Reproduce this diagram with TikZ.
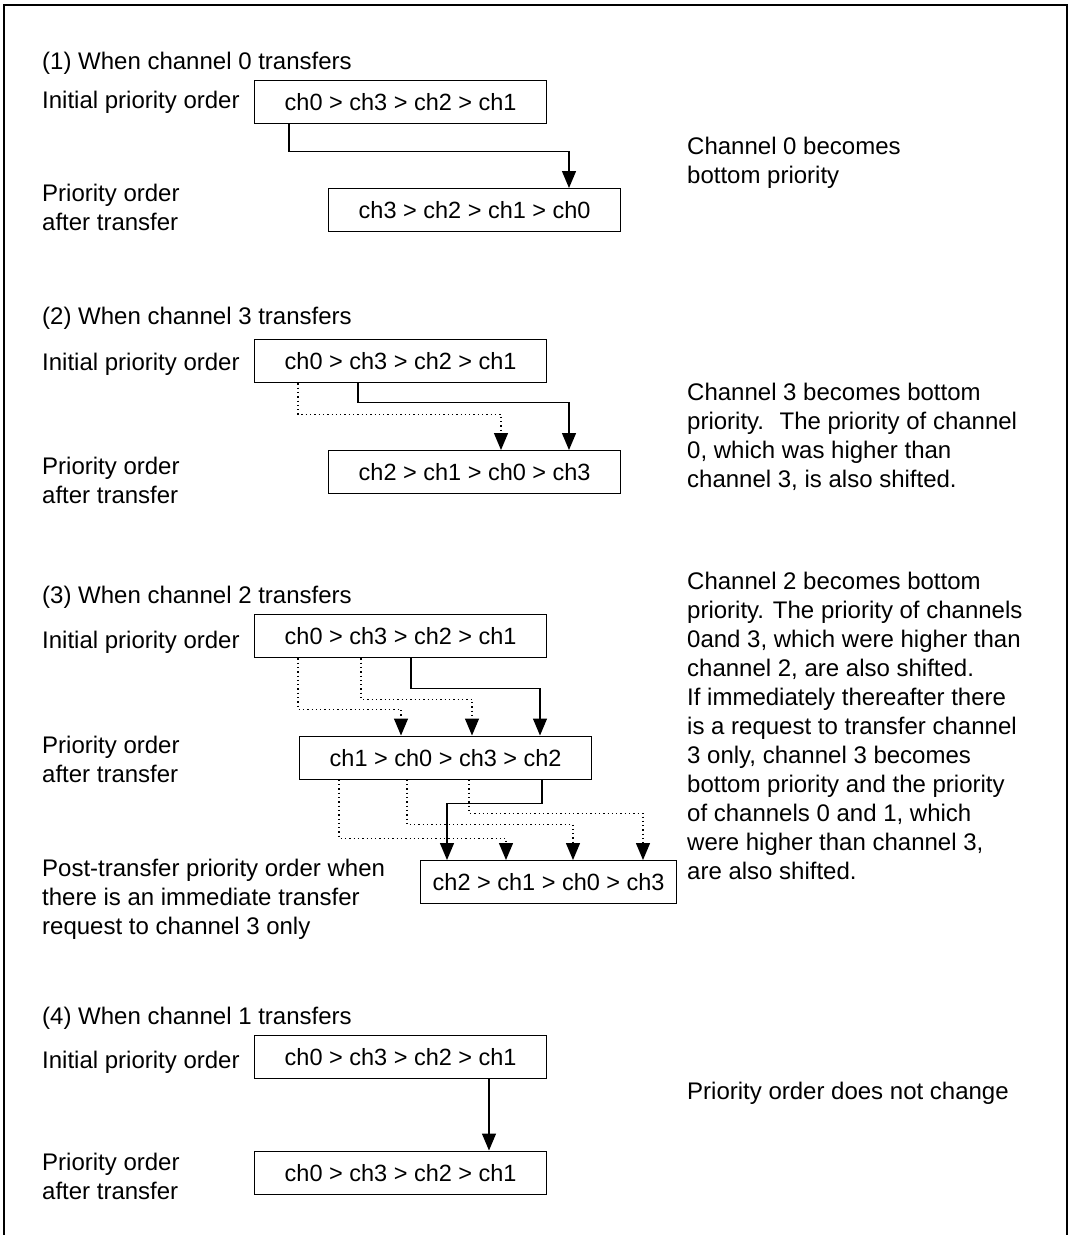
\documentclass[tikz,border=0pt]{standalone}
\usepackage{fontspec}
\setmainfont{Liberation Sans}
\usetikzlibrary{arrows.meta, positioning}

\newcommand{\lblfont}{\fontsize{24}{29}\selectfont}
\newcommand{\ordfont}{\fontsize{23.5}{29}\selectfont}

\begin{document}
\begin{tikzpicture}[
        x=1pt, y=-1pt,
        orderbox/.style={rectangle, draw, line width=1.3pt, minimum width=292pt, minimum height=43pt, inner sep=0pt, anchor=north west, font=\ordfont},
        lbl/.style={anchor=base west, align=left, inner sep=0pt, font=\lblfont},
        arrow/.style={-{Triangle[width=14pt,length=17pt]}, line width=1.3pt},
        dotarrow/.style={arrow, dash pattern=on 1.3pt off 3pt}
        ]
        \useasboundingbox (0,0) rectangle (1073,1235);

        % Frame (open at the bottom)
        \draw [line width=1.5pt] (4,1235) -- (4,5) -- (1067,5) -- (1067,1235);

        % (1) Channel 0  (multi-line labels sit on their last baseline)
        \node (h1) [lbl] at (42,69) {(1) When channel 0 transfers};
        \node (i1) [lbl] at (42,108) {Initial priority order};
        \node (a1) [lbl] at (42,230) {Priority order\\after transfer};
        \node (n1) [lbl] at (687,183) {Channel 0 becomes\\bottom priority};
        \node (b1a) [orderbox] at (254,80) {ch0 > ch3 > ch2 > ch1};
        \node (b1b) [orderbox] at (328,188) {ch3 > ch2 > ch1 > ch0};

        \draw [arrow] ([xshift=35pt]b1a.south west) -- ++(0,27) -| ([xshift=241pt]b1b.north west);

        % (2) Channel 3
        \node (h2) [lbl] at (42,324) {(2) When channel 3 transfers};
        \node (i2) [lbl] at (42,370) {Initial priority order};
        \node (a2) [lbl] at (42,503) {Priority order\\after transfer};
        \node (n2) [lbl] at (687,487) {Channel 3 becomes bottom\\priority.~ The priority of channel\\0, which was higher than\\channel 3, is also shifted.};
        \node (b2a) [orderbox] at (254,339) {ch0 > ch3 > ch2 > ch1};
        \node (b2b) [orderbox] at (328,450) {ch2 > ch1 > ch0 > ch3};

        \draw [arrow] ([xshift=104pt]b2a.south west) -- ++(0,19) -| ([xshift=241pt]b2b.north west);
        \draw [dotarrow] ([xshift=44pt]b2a.south west) -- ++(0,31) -| ([xshift=173pt]b2b.north west);

        % (3) Channel 2, then channel 3 only
        \node (h3) [lbl] at (42,603) {(3) When channel 2 transfers};
        \node (i3) [lbl] at (42,648) {Initial priority order};
        \node (a3) [lbl] at (42,782) {Priority order\\after transfer};
        \node (p3) [lbl] at (42,934) {Post-transfer priority order when\\there is an immediate transfer\\request to channel 3 only};
        \node (n3) [lbl] at (687,879) {Channel 2 becomes bottom\\priority. The priority of channels\\0and 3, which were higher than\\channel 2, are also shifted.\\If immediately thereafter there\\is a request to transfer channel\\3 only, channel 3 becomes\\bottom priority and the priority\\of channels 0 and 1, which\\were higher than channel 3,\\are also shifted.};
        \node (b3a) [orderbox] at (254,614) {ch0 > ch3 > ch2 > ch1};
        \node (b3b) [orderbox] at (299,735.5) {ch1 > ch0 > ch3 > ch2};
        \node (b3c) [orderbox, minimum width=256pt] at (420,860) {ch2 > ch1 > ch0 > ch3};

        \draw [arrow] ([xshift=157pt]b3a.south west) -- ++(0,30) -| ([xshift=241pt]b3b.north west);
        \draw [dotarrow] ([xshift=44pt]b3a.south west) -- ++(0,51) -| ([xshift=102pt]b3b.north west);
        \draw [dotarrow] ([xshift=107pt]b3a.south west) -- ++(0,41) -| ([xshift=173pt]b3b.north west);

        \draw [arrow] ([xshift=243pt]b3b.south west) -- ++(0,23.5) -| ([xshift=27pt]b3c.north west);
        \draw [dotarrow] ([xshift=40pt]b3b.south west) -- ++(0,58.5) -| ([xshift=86pt]b3c.north west);
        \draw [dotarrow] ([xshift=108pt]b3b.south west) -- ++(0,44.5) -| ([xshift=153pt]b3c.north west);
        \draw [dotarrow] ([xshift=170pt]b3b.south west) -- ++(0,33.5) -| ([xshift=223pt]b3c.north west);

        % (4) Channel 1
        \node (h4) [lbl] at (42,1024) {(4) When channel 1 transfers};
        \node (i4) [lbl] at (42,1068) {Initial priority order};
        \node (a4) [lbl] at (42,1199) {Priority order\\after transfer};
        \node (n4) [lbl] at (687,1099) {Priority order does not change};
        \node (b4a) [orderbox] at (254,1035) {ch0 > ch3 > ch2 > ch1};
        \node (b4b) [orderbox] at (254,1150.5) {ch0 > ch3 > ch2 > ch1};

        \draw [arrow] ([xshift=235pt]b4a.south west) -- ([xshift=235pt]b4b.north west);

    \end{tikzpicture}
\end{document}
